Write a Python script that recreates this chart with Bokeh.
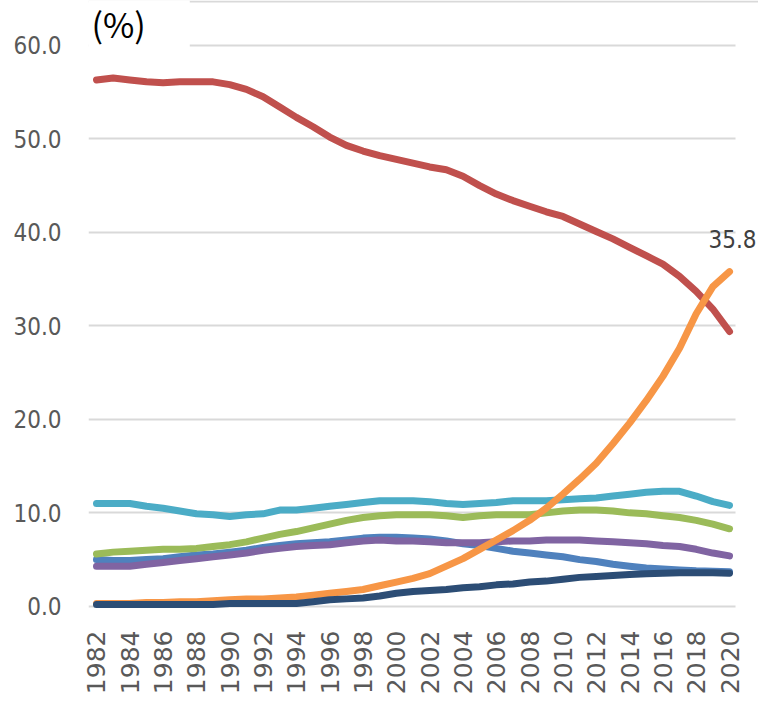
from math import pi

from bokeh.embed import file_html
from bokeh.models import (BoxAnnotation, ColumnDataSource, FixedTicker, Label,
                          PrintfTickFormatter, Span)
from bokeh.plotting import figure
from bokeh.resources import INLINE

# Annual shares (%) 1982-2020
years = list(range(1982, 2021))

share_red = [56.3, 56.5, 56.3, 56.1, 56.0, 56.1, 56.1, 56.1, 55.8, 55.3,
             54.5, 53.4, 52.3, 51.3, 50.2, 49.3, 48.7, 48.2, 47.8, 47.4,
             47.0, 46.7, 46.0, 45.0, 44.1, 43.4, 42.8, 42.2, 41.7, 40.9,
             40.1, 39.3, 38.4, 37.5, 36.6, 35.3, 33.7, 31.8, 29.4]
share_orange = [0.3, 0.3, 0.3, 0.4, 0.4, 0.5, 0.5, 0.6, 0.7, 0.8,
                0.8, 0.9, 1.0, 1.2, 1.4, 1.6, 1.8, 2.2, 2.6, 3.0,
                3.5, 4.3, 5.1, 6.1, 7.1, 8.1, 9.2, 10.5, 12.0, 13.6,
                15.3, 17.4, 19.6, 22.0, 24.6, 27.6, 31.3, 34.2, 35.8]
share_cyan = [11.0, 11.0, 11.0, 10.7, 10.5, 10.2, 9.9, 9.8, 9.6, 9.8,
              9.9, 10.3, 10.3, 10.5, 10.7, 10.9, 11.1, 11.3, 11.3, 11.3,
              11.2, 11.0, 10.9, 11.0, 11.1, 11.3, 11.3, 11.3, 11.4, 11.5,
              11.6, 11.8, 12.0, 12.2, 12.3, 12.3, 11.8, 11.2, 10.8]
share_green = [5.6, 5.8, 5.9, 6.0, 6.1, 6.1, 6.2, 6.4, 6.6, 6.9,
               7.3, 7.7, 8.0, 8.4, 8.8, 9.2, 9.5, 9.7, 9.8, 9.8,
               9.8, 9.7, 9.5, 9.7, 9.8, 9.8, 9.8, 10.0, 10.2, 10.3,
               10.3, 10.2, 10.0, 9.9, 9.7, 9.5, 9.2, 8.8, 8.3]
share_purple = [4.3, 4.3, 4.3, 4.5, 4.7, 4.9, 5.1, 5.3, 5.5, 5.7,
                6.0, 6.2, 6.4, 6.5, 6.6, 6.8, 7.0, 7.1, 7.0, 7.0,
                6.9, 6.8, 6.8, 6.8, 6.9, 7.0, 7.0, 7.1, 7.1, 7.1,
                7.0, 6.9, 6.8, 6.7, 6.5, 6.4, 6.1, 5.7, 5.4]
share_blue = [5.0, 4.9, 4.9, 5.0, 5.1, 5.3, 5.5, 5.6, 5.8, 6.0,
              6.3, 6.5, 6.7, 6.8, 6.9, 7.1, 7.3, 7.4, 7.4, 7.3,
              7.2, 7.0, 6.7, 6.5, 6.2, 5.9, 5.7, 5.5, 5.3, 5.0,
              4.8, 4.5, 4.3, 4.1, 4.0, 3.9, 3.8, 3.75, 3.7]
share_navy = [0.2, 0.2, 0.2, 0.2, 0.2, 0.2, 0.2, 0.2, 0.3, 0.3,
              0.3, 0.3, 0.3, 0.5, 0.7, 0.8, 0.9, 1.1, 1.4, 1.6,
              1.7, 1.8, 2.0, 2.1, 2.3, 2.4, 2.6, 2.7, 2.9, 3.1,
              3.2, 3.3, 3.4, 3.5, 3.55, 3.6, 3.6, 3.6, 3.55]

x_ticks = list(range(1982, 2021, 2))
y_ticks = [0, 10, 20, 30, 40, 50, 60]

NARROW = "DejaVu Sans Condensed, Liberation Sans Narrow, Roboto Condensed, Roboto"

source = ColumnDataSource(dict(
    year=years, red=share_red, orange=share_orange, cyan=share_cyan,
    green=share_green, purple=share_purple, blue=share_blue, navy=share_navy,
))

p = figure(
    frame_width=670, frame_height=611,
    min_border_left=88, min_border_right=0,
    min_border_top=0, min_border_bottom=92,
    x_range=(1981.52, 2021.74), y_range=(-0.55, 64.8),
    output_backend="svg", toolbar_location=None,
    background_fill_color="white", border_fill_color="white",
)
p.outline_line_color = None
p.xgrid.grid_line_color = None
p.ygrid.grid_line_color = "#d9d9d9"
p.ygrid.grid_line_width = 2

# y axis
p.yaxis.ticker = FixedTicker(ticks=y_ticks)
p.yaxis.formatter = PrintfTickFormatter(format="%.1f")
p.yaxis.axis_line_color = None
p.yaxis.major_tick_line_color = None
p.yaxis.minor_tick_line_color = None
p.yaxis.major_tick_in = 0
p.yaxis.major_tick_out = 0
p.yaxis.major_label_standoff = 27
p.yaxis.major_label_text_font = NARROW
p.yaxis.major_label_text_font_size = "24px"
p.yaxis.major_label_text_color = "#595959"

# x axis, rotated year labels
p.xaxis.ticker = FixedTicker(ticks=x_ticks)
p.xaxis.major_label_orientation = pi / 2
p.xaxis.axis_line_color = None
p.xaxis.major_tick_line_color = None
p.xaxis.minor_tick_line_color = None
p.xaxis.major_tick_in = 0
p.xaxis.major_tick_out = 0
p.xaxis.major_label_standoff = 19
p.xaxis.major_label_text_font = "DejaVu Sans"
p.xaxis.major_label_text_font_size = "25px"
p.xaxis.major_label_text_color = "#595959"

# series, bottom to top
series = [
    ("blue", "#4f81bd"),
    ("purple", "#8064a2"),
    ("green", "#9bbb59"),
    ("cyan", "#4bacc6"),
    ("red", "#c0504d"),
    ("orange", "#f79646"),
    ("navy", "#2c4d75"),
]
for col, color in series:
    p.line("year", col, source=source, line_color=color, line_width=7,
           line_cap="round", line_join="round")

# blank margin to the right of the plotted years (gridlines stop here)
p.add_layout(BoxAnnotation(left=2020.36, right=2030, bottom=-5, top=70,
                           fill_color="white", fill_alpha=1.0,
                           line_color=None))

# thin rule along the top edge
p.add_layout(Span(location=64.7, dimension="width", line_color="#d9d9d9",
                  line_width=2))

# unit caption with a white backing
p.add_layout(BoxAnnotation(left=1980.5, right=1987.6, bottom=59.3, top=66,
                           fill_color="white", fill_alpha=1.0,
                           line_color=None))
p.add_layout(Label(x=1981.7, y=62.3, text="(%)",
                   text_font="Noto Sans CJK JP",
                   text_font_size="34px", text_color="black",
                   text_baseline="alphabetic", text_align="left"))

# end value of the rising series
p.add_layout(Label(x=years[-1], y=share_orange[-1],
                   text=f"{share_orange[-1]:.1f}",
                   text_font=NARROW, text_font_size="24px",
                   text_color="#404040", text_align="center",
                   text_baseline="alphabetic", x_offset=3, y_offset=33))

open("out.html", "w").write(file_html(p, INLINE))
